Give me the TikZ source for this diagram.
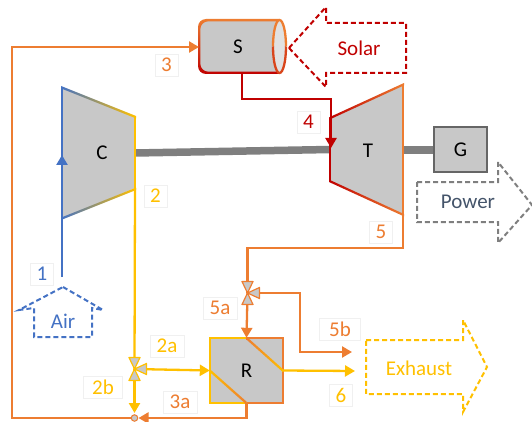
\documentclass[tikz,border=0pt]{standalone}
\usepackage{fontspec}
\setmainfont{Carlito}
\usepackage{tikz}
\usetikzlibrary{arrows.meta,calc}
\definecolor{PlantBlue}{HTML}{4472C4}
\definecolor{PlantRed}{HTML}{C00000}
\definecolor{PlantOrange}{HTML}{ED7D31}
\definecolor{PlantYellow}{HTML}{FFC000}
\definecolor{PlantGrey}{HTML}{7F7F7F}
\definecolor{PlantFill}{HTML}{C8C8C8}
\definecolor{PlantSlate}{HTML}{44546A}
\definecolor{TagEdge}{HTML}{F0F0F0}

\begin{document}
\begin{tikzpicture}[
  x=1pt,y=-1pt,
  flow/.style={line width=2.3pt,draw=#1},
  arrow/.style={flow=#1,-{Triangle[length=10pt,width=11pt]}},
  machine/.style={font=\fontsize{21}{24}\selectfont,text=black},
  block/.style={machine,draw=#1,fill=PlantFill,line width=2.3pt,inner sep=0pt},
  tag/.style={draw=TagEdge,fill=white,line width=0.7pt,inner sep=0pt,minimum height=22pt,minimum width=23pt,font=\fontsize{21}{24}\selectfont,text=#1},
  bigarrow/.style={draw=#1,dash pattern=on 5pt off 3pt,line width=2pt,line join=miter},
  valvepart/.style={draw=#1,fill=PlantFill,line width=1.2pt,line join=round},
  word/.style={font=\fontsize{21}{24}\selectfont,text=#1}
]
\useasboundingbox (0,0) rectangle (532,422);
\coordinate (C1) at (62,87); \coordinate (C2) at (135,117); \coordinate (C3) at (135,188); \coordinate (C4) at (62,218);
\coordinate (T1) at (330,118); \coordinate (T2) at (403,84); \coordinate (T3) at (403,215); \coordinate (T4) at (330,181);
\coordinate (Sin) at (199,47); \coordinate (Sout) at (242,73);
\coordinate (Vy) at (134.5,369); \coordinate (Vo) at (247.5,293);
\coordinate (Jn) at (134.5,418);
\coordinate (AirOut) at (62,277); \coordinate (Cin) at (62,155);
\coordinate (Tin) at (331,148);
\coordinate (Bend) at (300,352); \coordinate (ExOrange) at (352,352); \coordinate (ExYellow) at (355,371);

% machines
\fill[PlantFill] (C1)--(C2)--(C3)--(C4)--cycle;
\fill[PlantFill] (T1)--(T2)--(T3)--(T4)--cycle;
\draw[line width=7.5pt,draw=PlantGrey] (135,153) -- (330,149.5);
\draw[line width=7.5pt,draw=PlantGrey] (403,150) -- (434,150);
\node[machine] (C) at (102,153) {C};
\node[machine] (T) at (368,151) {T};
\node[block=PlantGrey!80!black,minimum width=53pt,minimum height=45pt] (G) at (460.5,149.5) {G};
\draw[flow=PlantBlue] (C4) -- (C1);
\draw[flow=PlantYellow] (C2) -- (C3);
\shade[left color=PlantBlue,right color=PlantYellow] (61,86)--(136,116)--(136,118.4)--(61,88.4)--cycle;
\shade[left color=PlantBlue,right color=PlantYellow] (61,217.6)--(136,187.6)--(136,190)--(61,220)--cycle;
\draw[flow=PlantRed] (T1) -- (T4);
\draw[flow=PlantOrange] (T2) -- (T3);
\shade[left color=PlantRed,right color=PlantOrange] (329,117.4)--(404,83)--(404,85.4)--(329,119.8)--cycle;
\shade[left color=PlantRed,right color=PlantOrange] (329,179.6)--(404,214)--(404,216.4)--(329,182)--cycle;

% storage
\begin{scope}
  \clip (190,10) rectangle (279.5,80);
  \fill[PlantFill,rounded corners=8pt] (199,20) rectangle (300,73);
  \shade[top color=PlantOrange,bottom color=PlantRed,even odd rule,rounded corners=8pt]
    (198,19) rectangle (300,74) (200.3,21.3) rectangle (300,71.7);
\end{scope}
\fill[PlantFill!55!white] (279.5,46.5) ellipse (6.5 and 26.5);
\draw[flow=PlantOrange] (286,46.5) arc[start angle=0,end angle=-180,x radius=6.5,y radius=26.5];
\draw[flow=PlantOrange!55!PlantRed] (286,46.5) arc[start angle=0,end angle=180,x radius=6.5,y radius=26.5];
\node[machine] (S) at (238,47) {S};

% regenerator
\node[machine,fill=PlantFill,minimum width=73pt,minimum height=65pt,inner sep=0pt] (R) at (246.5,370.5) {R};
\draw[flow=PlantYellow] (R.north) -| (R.west) |- (R.south);
\draw[flow=PlantOrange] (R.north) -| (R.east) |- (R.south);
\shade[left color=PlantOrange,right color=PlantYellow] (246.5,336.6)--(283,369.2)--(283,372.2)--(246.5,339.6)--cycle;
\shade[left color=PlantYellow,right color=PlantOrange] (210,369.2)--(246.5,401.6)--(246.5,404.6)--(210,372.2)--cycle;

% lines
\draw[arrow=PlantBlue] (AirOut) -- (Cin);
\draw[arrow=PlantRed] (Sout) |- ($(T1)+(1,-19)$) -- (Tin);
\draw[flow=PlantYellow] (C3) -- (Vy);
\draw[arrow=PlantYellow] (Vy) -- (R.west);
\draw[arrow=PlantYellow,shorten >=5pt] (Vy) -- (Jn);
\draw[arrow=PlantYellow] (R.east) -- (ExYellow);
\draw[arrow=PlantOrange,shorten >=4pt] (R.south) |- (Jn);
\draw[arrow=PlantOrange] (Jn) -| (12,47) -- (Sin);
\draw[flow=PlantOrange] (T3) |- ($(Vo)+(0,-45)$) -- (Vo);
\draw[arrow=PlantOrange] (Vo) -- (R.north);
\draw[arrow=PlantOrange] (Vo) -| (Bend) -- (ExOrange);

% valves
\foreach \vname/\vcolor in {Vy/PlantYellow,Vo/PlantOrange}{
  \draw[valvepart=\vcolor] (\vname) -- ++(-5.5,-11.5) -- ++(11,0) -- cycle;
  \draw[valvepart=\vcolor] (\vname) -- ++(-5.5,11.5) -- ++(11,0) -- cycle;
  \draw[valvepart=\vcolor] (\vname) -- ++(12,-5.5) -- ++(0,11) -- cycle;
}
\node[circle,draw=PlantOrange,fill=PlantFill,line width=1pt,minimum size=6.5pt,inner sep=0pt] (Jc) at (Jn) {};

% big arrows
\draw[bigarrow=PlantRed] (289,48) -- (326,7) -- (326,23) -- (406,23) -- (406,73) -- (326,73) -- (326,87) -- cycle;
\node[word=PlantRed] (Solar) at (359,48) {Solar};
\draw[bigarrow=PlantBlue] (63,287) -- (103,310) -- (92,308) -- (92,337) -- (34,337) -- (34,308) -- (19,310) -- cycle;
\node[word=PlantBlue] (Air) at (63,321) {Air};
\draw[bigarrow=PlantGrey] (417,182) -- (498,182) -- (498,162) -- (532,205) -- (498,243) -- (498,222) -- (417,222) -- cycle;
\node[word=PlantSlate] (Power) at (468,202) {Power};
\draw[bigarrow=PlantYellow] (366,340) -- (463,340) -- (463,320) -- (487,367) -- (463,412) -- (463,394) -- (366,394) -- cycle;
\node[word=PlantYellow] (Exhaust) at (419,368) {Exhaust};

% state tags
\node[tag=PlantBlue] (n1) at (42,274) {1};
\node[tag=PlantYellow] (n2) at (155.5,196) {2};
\node[tag=PlantOrange] (n3) at (166.5,65) {3};
\node[tag=PlantRed] (n4) at (308.5,122) {4};
\node[tag=PlantOrange] (n5) at (381,232) {5};
\node[tag=PlantOrange,minimum width=34pt] (n5a) at (220,308) {5a};
\node[tag=PlantOrange,minimum width=41pt] (n5b) at (340,329) {5b};
\node[tag=PlantYellow,minimum width=34pt] (n2a) at (167,346) {2a};
\node[tag=PlantYellow,minimum width=39pt] (n2b) at (103,387) {2b};
\node[tag=PlantOrange,minimum width=34pt] (n3a) at (180,402) {3a};
\node[tag=PlantYellow] (n6) at (341,395) {6};
\end{tikzpicture}
\end{document}
